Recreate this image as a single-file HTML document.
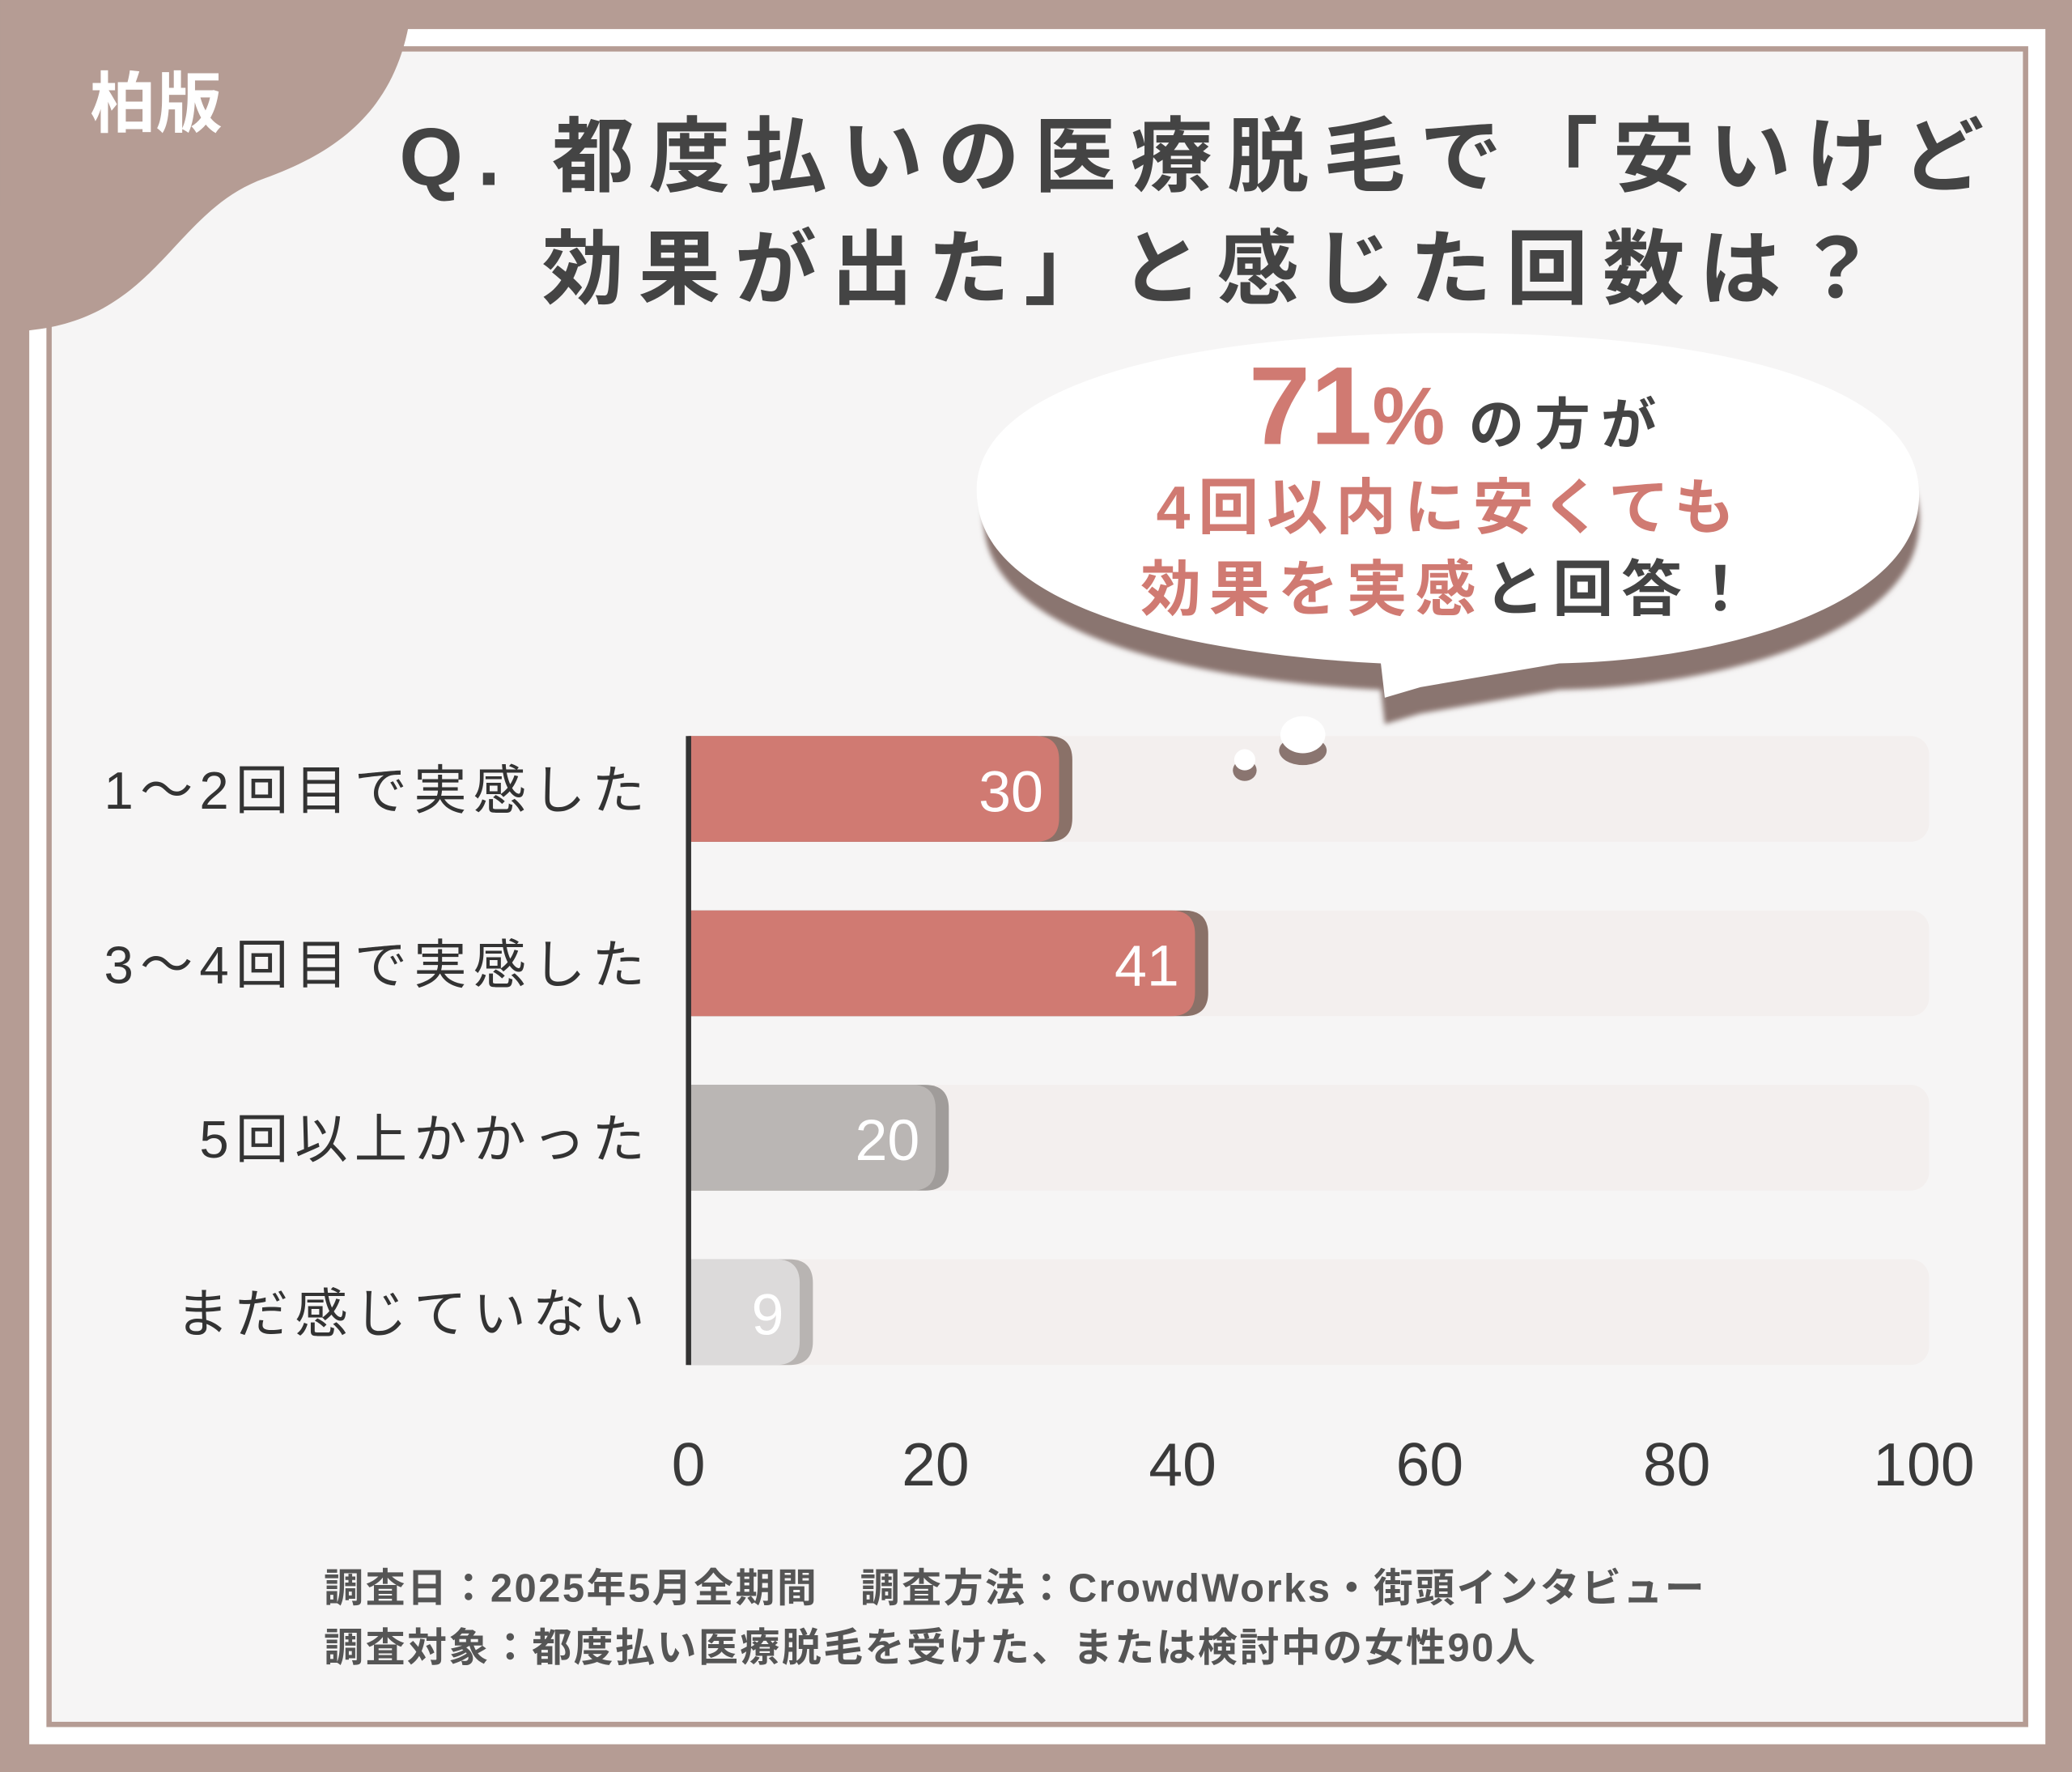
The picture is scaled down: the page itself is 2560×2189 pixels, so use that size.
<!DOCTYPE html>
<html><head><meta charset="utf-8">
<style>
html,body{margin:0;padding:0;background:#b59c94;}
svg{display:block;}
text{font-family:"Liberation Sans","Noto Sans CJK JP",sans-serif;}
</style></head>
<body>
<svg id="chart" width="2560" height="2189" viewBox="0 0 1568 1341" xmlns="http://www.w3.org/2000/svg">
  <defs>
    <filter id="blur" x="-20%" y="-20%" width="140%" height="140%"><feGaussianBlur stdDeviation="2"/></filter>
  </defs>
  <rect x="0" y="0" width="1568" height="1341" fill="#b59c94"/>
  <rect x="22" y="22" width="1526" height="1298" fill="#ffffff"/>
  <rect x="37" y="37" width="1496" height="1268" fill="#f6f5f5" stroke="#b59c94" stroke-width="4"/>
  <path d="M0,0 L312,0 C305,70 270,110 200,135 C130,160 120,240 22,250 L0,252 Z" fill="#b59c94"/>
  <text x="68" y="96" font-size="50" font-weight="bold" fill="#ffffff">柏版</text>
  <g font-size="62" font-weight="bold" fill="#444444" letter-spacing="11">
    <text x="302" y="140">Q. 都度払いの医療脱毛で「安いけど</text>
    <text x="410" y="225">効果が出た」と感じた回数は？</text>
  </g>
  <g>
    <path d="M745,392 C730,300 900,262 1097,262 C1300,262 1465,300 1452,392 C1445,470 1300,510 1180,512 L1075,530 L1048,538 L1045,512 C900,505 755,470 745,392 Z" fill="#8a7570" filter="url(#blur)" transform="translate(0,10)"/>
    <path d="M740,382 C725,290 900,252 1097,252 C1300,252 1462,290 1452,382 C1445,460 1300,500 1180,502 L1075,520 L1048,528 L1045,502 C900,495 750,460 740,382 Z" fill="#ffffff"/>
    <text x="945" y="336" font-size="84" font-weight="bold" fill="#d07a72">71<tspan font-size="62">%</tspan><tspan font-size="42" fill="#444" dx="18" letter-spacing="8">の方が</tspan></text>
    <text x="1097" y="400" font-size="46" font-weight="bold" fill="#d07a72" text-anchor="middle" letter-spacing="6">4回以内に安くても</text>
    <text x="1097" y="462" font-size="46" font-weight="bold" fill="#d07a72" text-anchor="middle" letter-spacing="6">効果を実感<tspan fill="#444">と回答！</tspan></text>
  </g>
  <g id="plot"></g>
  <g>
    <ellipse cx="986" cy="568" rx="18" ry="11" fill="#8a7570"/>
    <ellipse cx="986" cy="556" rx="17" ry="14" fill="#ffffff"/>
    <ellipse cx="942" cy="583" rx="9" ry="8" fill="#8a7570"/>
    <circle cx="942" cy="575" r="8" fill="#ffffff"/>
  </g>
  <g font-size="30" font-weight="bold" fill="#555555" letter-spacing="1.5">
    <text x="245" y="1212">調査日：2025年5月全期間　調査方法：CrowdWorks・街頭インタビュー</text>
    <text x="245" y="1257">調査対象：都度払い医療脱毛を受けた、または検討中の女性90人</text>
  </g>
</svg>
<script>
const categories = ["1～2回目で実感した", "3～4回目で実感した", "5回以上かかった", "まだ感じていない"];
const values = [30, 41, 20, 9];
const tickValues = [0, 20, 40, 60, 80, 100];
const tickLabels = ["0", "20", "40", "60", "80", "100"];

const NS = "http://www.w3.org/2000/svg";
const plot = document.getElementById("plot");
const x0 = 521, x1 = 1456, xMax = 100;
const xScale = v => x0 + (v / xMax) * (x1 - x0);
const rowTop = 557, rowStep = 132, barH = 80;
const yScale = i => rowTop + i * rowStep;
const fills = ["#d07a72", "#d07a72", "#bab6b4", "#dcdada"];
const shadows = ["#8a7168", "#8a7168", "#a09c9a", "#b8b4b2"];

function el(tag, attrs) {
  const e = document.createElementNS(NS, tag);
  for (const k in attrs) e.setAttribute(k, attrs[k]);
  plot.appendChild(e);
  return e;
}
function rightRound(x, y, w, h, r) {
  r = Math.min(r, w);
  return `M${x},${y} H${x + w - r} Q${x + w},${y} ${x + w},${y + r} V${y + h - r} Q${x + w},${y + h} ${x + w - r},${y + h} H${x} Z`;
}

categories.forEach((c, i) => {
  const y = yScale(i);
  const track = el("rect", {x: x0, y: y, width: xScale(100) - x0 + 4, height: barH, rx: 14, fill: "#f3efee"});
  
  
  const w = xScale(values[i]) - x0;
  const sh = el("path", {d: rightRound(x0, y, w + 10, barH, 18), fill: shadows[i]});
  
  
  const bar = el("path", {d: rightRound(x0, y, w, barH, 18), fill: fills[i]});
  
  
  const vl = el("text", {x: x0 + w - 12, y: y + 57, "font-size": 44, fill: "#ffffff", "text-anchor": "end"});
  vl.textContent = values[i];
  
  
  const cl = el("text", {x: 493, y: y + 55, "font-size": 40, "font-weight": "normal", fill: "#333333", "text-anchor": "end", "letter-spacing": 5});
  cl.textContent = c;
  
  
});

const axis = el("line", {x1: x0, x2: x0, y1: rowTop, y2: yScale(categories.length - 1) + barH, stroke: "#333333", "stroke-width": 4});



tickValues.forEach((t, i) => {
  const tl = el("text", {x: xScale(t), y: 1124, "font-size": 46, fill: "#3a3a3a", "text-anchor": "middle"});
  tl.textContent = tickLabels[i];
  
  
});
</script>
</body></html>
